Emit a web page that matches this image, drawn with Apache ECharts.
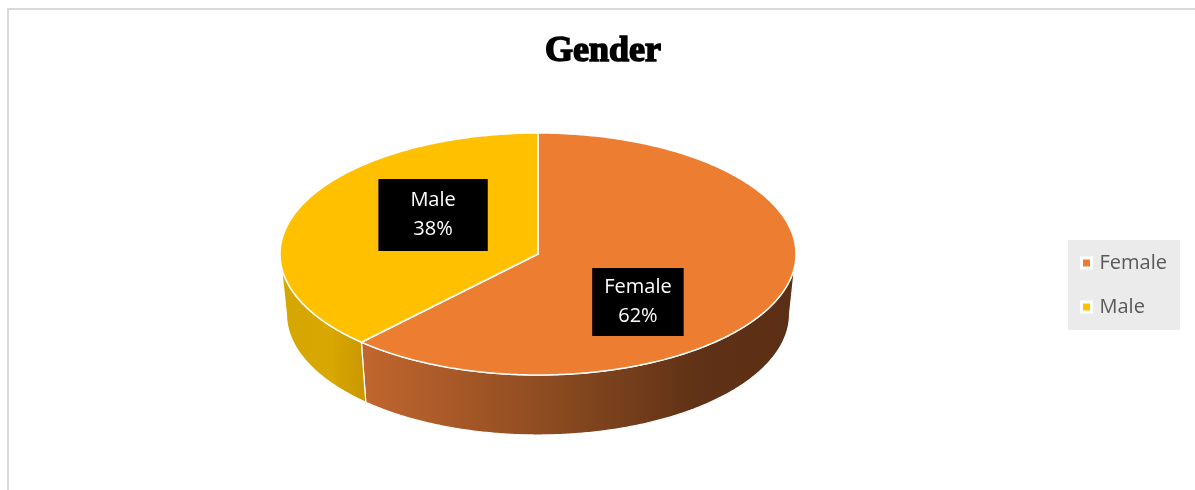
<!DOCTYPE html>
<html>
<head>
<meta charset="utf-8">
<title>Gender</title>
<script src="https://cdn.jsdelivr.net/npm/echarts@6/dist/echarts.min.js"></script>
<style>
  html, body { margin: 0; padding: 0; background: #fff; }
  #chart { width: 1195px; height: 490px; }
</style>
</head>
<body>
<div id="chart"></div>
<script>
// Gender split, drawn as a tilted pie with a visible rim
const categories = ['Female', 'Male'];
const shares = [62, 38];            // percent
const legendNames = ['Female', 'Male'];

// look of each slice: top face colour and rim gradient stops
const topColors = ['#ed7d31', '#ffc000'];
const rimStops = [
  [[0, '#c2662e'], [0.45, '#8a4a20'], [0.78, '#5f3116'], [1, '#5b2f15']],
  [[0, '#d6a600'], [0.6, '#d8a700'], [1, '#c99700']]
];
const labelPadding = [[5, 12], [7, 32]];

// pie geometry in pixels
const PIE = { cx: 538, cy: 254, rx: 258, ry: 121, depth: 60, bottomScale: 0.975 };
const LABEL = { fx: 0.427, fy: 0.977, dx: -2.5, dy: 4.5 };

const total = shares.reduce((a, b) => a + b, 0);

function topPoint(t) {
  return [PIE.cx + PIE.rx * Math.sin(t), PIE.cy - PIE.ry * Math.cos(t)];
}
function bottomPoint(t) {
  return [PIE.cx + PIE.rx * PIE.bottomScale * Math.sin(t), PIE.cy + PIE.depth - PIE.ry * Math.cos(t)];
}
function arc(a, b, fn) {
  const n = Math.max(2, Math.ceil((b - a) / (Math.PI / 360)));
  const pts = [];
  for (let i = 0; i <= n; i++) pts.push(fn(a + (b - a) * i / n));
  return pts;
}

function sliceRenderer(idx) {
  return function (params, api) {
    const before = shares.slice(0, idx).reduce((a, b) => a + b, 0);
    const a0 = before / total * Math.PI * 2;
    const a1 = a0 + api.value(0) / total * Math.PI * 2;
    const color = api.visual('color');
    const children = [];

    // rim: only the part facing the viewer
    const s = Math.max(a0, Math.PI / 2);
    const e = Math.min(a1, Math.PI * 1.5);
    if (e > s) {
      const top = arc(s, e, topPoint);
      const bottom = arc(s, e, bottomPoint).reverse();
      const xs = top.concat(bottom).map(p => p[0]);
      children.push({
        type: 'polygon',
        shape: { points: top.concat(bottom) },
        style: {
          fill: {
            type: 'linear', global: true,
            x: Math.min.apply(null, xs), y: 0, x2: Math.max.apply(null, xs), y2: 0,
            colorStops: rimStops[idx].map(st => ({ offset: st[0], color: st[1] }))
          },
          stroke: '#ffffff', lineWidth: 1.2, lineJoin: 'round'
        },
        z2: 1
      });
    }

    // top face
    children.push({
      type: 'polygon',
      shape: { points: [[PIE.cx, PIE.cy]].concat(arc(a0, a1, topPoint)) },
      style: { fill: color, stroke: '#ffffff', lineWidth: 1.5, lineJoin: 'round' },
      z2: 2
    });

    // value label
    const mid = (a0 + a1) / 2;
    children.push({
      type: 'text',
      x: PIE.cx + LABEL.dx + PIE.rx * LABEL.fx * Math.sin(mid),
      y: PIE.cy + LABEL.dy - PIE.ry * LABEL.fy * Math.cos(mid),
      style: {
        text: categories[idx] + '\n' + api.value(0) + '%',
        fill: '#ffffff',
        fontFamily: 'Open Sans',
        fontSize: 20,
        lineHeight: 29,
        align: 'center',
        verticalAlign: 'middle',
        backgroundColor: '#000000',
        padding: labelPadding[idx]
      },
      z2: 10
    });

    return { type: 'group', children: children };
  };
}

const chart = echarts.init(document.getElementById('chart'), null, { renderer: 'canvas' });

chart.setOption({
  backgroundColor: '#ffffff',
  animation: false,
  title: {
    text: 'Gender',
    left: 598,
    textAlign: 'center',
    top: 29,
    textStyle: {
      fontFamily: 'Liberation Serif',
      fontWeight: 'bold',
      fontSize: 36,
      color: '#000000',
      textBorderColor: '#000000',
      textBorderWidth: 1.6
    }
  },
  legend: {
    data: legendNames,
    orient: 'vertical',
    left: 1068,
    top: 240,
    padding: [12, 13, 12, 12],
    backgroundColor: '#ebebeb',
    icon: 'rect',
    itemWidth: 10,
    itemHeight: 10,
    itemGap: 22,
    itemStyle: { borderColor: '#ffffff', borderWidth: 3 },
    selectedMode: false,
    textStyle: {
      fontFamily: 'Open Sans',
      fontSize: 20,
      lineHeight: 22,
      color: '#595959',
      padding: [0, 0, 0, 3]
    }
  },
  graphic: [{
    type: 'rect',
    shape: { x: 8, y: 9, width: 1220, height: 520 },
    style: { fill: 'none', stroke: '#d9d9d9', lineWidth: 2 },
    silent: true,
    z: -10
  }],
  series: categories.map((name, i) => ({
    type: 'custom',
    name: name,
    coordinateSystem: 'none',
    silent: true,
    itemStyle: { color: topColors[i] },
    renderItem: sliceRenderer(i),
    data: [[shares[i]]]
  }))
});
</script>
</body>
</html>
